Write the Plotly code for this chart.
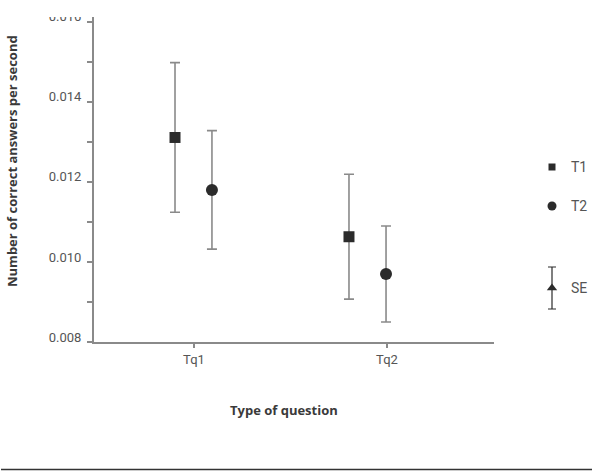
import plotly.graph_objects as go

# ---- data ----
categories = ["Tq1", "Tq2"]
cat_pos = [1, 2]
series_names = ["T1", "T2"]
t1_means = [0.01311, 0.01063]
t1_se = [0.00187, 0.00156]
t2_means = [0.01180, 0.00970]
t2_se = [0.00148, 0.00120]
y_tickvals = [0.008, 0.010, 0.012, 0.014, 0.016]
y_ticktext = ["0.008", "0.010", "0.012", "0.014", "0.016"]

# ---- style / positions ----
t1_offsets = [-0.0984, -0.197]
t2_offsets = [0.093, -0.005]
dark = "#2b2b2b"
axis_gray = "#8a8a8a"
text_gray = "#555555"
tick_font = dict(family="Roboto", size=13, color=text_gray)

W, H = 593, 472
ml, mr, mt, mb = 94, 0, 17, 130
plot_w = W - ml - mr
plot_h = H - mt - mb
main_w = 400

fig = go.Figure()

fig.add_trace(go.Scatter(
    x=[c + o for c, o in zip(cat_pos, t1_offsets)], y=t1_means, mode="markers",
    name=series_names[0],
    marker=dict(symbol="square", size=11, color=dark),
    error_y=dict(type="data", array=t1_se, visible=True, color=axis_gray, thickness=1.6, width=5),
    showlegend=False))
fig.add_trace(go.Scatter(
    x=[c + o for c, o in zip(cat_pos, t2_offsets)], y=t2_means, mode="markers",
    name=series_names[1],
    marker=dict(symbol="circle", size=12, color=dark),
    error_y=dict(type="data", array=t2_se, visible=True, color=axis_gray, thickness=1.6, width=5),
    showlegend=False))

# ---- custom legend on auxiliary axes (pixel-like units) ----
leg_x = 552
fig.add_trace(go.Scatter(x=[leg_x], y=[167], xaxis="x2", yaxis="y2", mode="markers",
                         marker=dict(symbol="square", size=7, color=dark), showlegend=False, hoverinfo="skip"))
fig.add_trace(go.Scatter(x=[leg_x], y=[206], xaxis="x2", yaxis="y2", mode="markers",
                         marker=dict(symbol="circle", size=9, color=dark), showlegend=False, hoverinfo="skip"))
fig.add_trace(go.Scatter(x=[leg_x], y=[288], xaxis="x2", yaxis="y2", mode="markers",
                         marker=dict(symbol="triangle-up", size=9, color=dark),
                         error_y=dict(type="constant", value=21, visible=True, color=dark, thickness=1.2, width=4),
                         showlegend=False, hoverinfo="skip"))
for ty, label in [(167, "T1"), (206, "T2"), (288, "SE")]:
    fig.add_annotation(x=569, y=ty, xref="x2", yref="y2", text=label, showarrow=False,
                       xanchor="left", yanchor="middle", font=dict(family="Roboto", size=14, color=text_gray))

fig.update_layout(
    width=W, height=H,
    margin=dict(l=ml, r=mr, t=mt, b=mb),
    paper_bgcolor="white", plot_bgcolor="white",
    xaxis=dict(domain=[0, main_w / plot_w], range=[1 - 100 / 193, 2 + 107 / 193],
               tickvals=cat_pos, ticktext=categories, ticks="outside", ticklen=4,
               tickcolor=axis_gray, tickwidth=1.5, tickfont=tick_font,
               showline=True, linecolor=axis_gray, linewidth=2, showgrid=False, zeroline=False),
    yaxis=dict(range=[0.008, 0.01612], tickvals=y_tickvals, ticktext=y_ticktext,
               ticks="outside", ticklen=5, tickcolor=axis_gray, tickwidth=1.5, tickfont=tick_font,
               ticklabelshift=-5, ticklabelstandoff=3,
               minor=dict(tickvals=[0.009, 0.011, 0.013, 0.015], ticks="outside", ticklen=5,
                          tickcolor=axis_gray, tickwidth=1.5),
               showline=True, linecolor=axis_gray, linewidth=2, showgrid=False, zeroline=False),
    xaxis2=dict(domain=[424 / plot_w, 1], range=[518, 593], visible=False, fixedrange=True),
    yaxis2=dict(anchor="x2", domain=[0, 1], range=[342, 17], visible=False, fixedrange=True),
)

def px_to_paper_x(px):
    return (px - ml) / plot_w

def px_to_paper_y(py):
    return (H - mb - py) / plot_h

# axis titles
fig.add_annotation(x=px_to_paper_x(284), y=px_to_paper_y(410), xref="paper", yref="paper",
                   text="<b>Type of question</b>", showarrow=False, xanchor="center", yanchor="middle",
                   font=dict(family="Open Sans", size=13, color="#3a3a3a"))
fig.add_annotation(x=px_to_paper_x(12), y=px_to_paper_y(161), xref="paper", yref="paper", textangle=-90,
                   text="<b>Number of correct answers per second</b>", showarrow=False,
                   xanchor="center", yanchor="middle",
                   font=dict(family="Open Sans", size=13, color="#3a3a3a"))

# top crop edge of the original figure (top label is cut off)
fig.add_shape(type="rect", xref="paper", yref="paper", layer="above",
              x0=px_to_paper_x(40), x1=px_to_paper_x(90),
              y0=px_to_paper_y(17), y1=px_to_paper_y(0),
              line=dict(width=0), fillcolor="white")

# bottom rule
fig.add_shape(type="line", xref="paper", yref="paper",
              x0=px_to_paper_x(1), x1=px_to_paper_x(592),
              y0=px_to_paper_y(469.5), y1=px_to_paper_y(469.5),
              line=dict(color="#333333", width=1.5))

fig.write_html("out.html")
